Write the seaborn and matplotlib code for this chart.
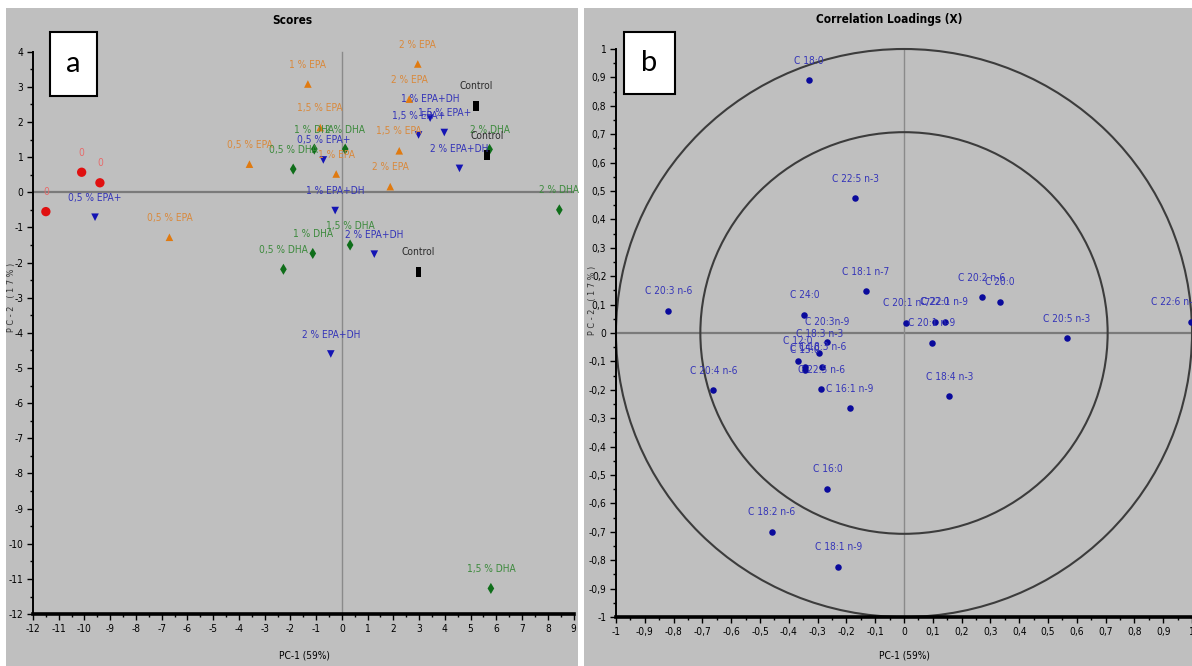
import pandas as pd
import matplotlib
matplotlib.use("Agg")
import matplotlib.pyplot as plt
import seaborn as sns
from matplotlib import font_manager
from matplotlib.patches import Rectangle, Circle
from matplotlib.ticker import MultipleLocator, FuncFormatter

# ---- scores (panel a) ----
score_labels = ["0", "0", "0",
                "0,5 % EPA", "0,5 % EPA", "1 % EPA", "1 % EPA", "1,5 % EPA", "1,5 % EPA",
                "2 % EPA", "2 % EPA", "2 % EPA",
                "0,5 % DHA", "0,5 % DHA", "1 % DHA", "1 % DHA", "1,5 % DHA", "1,5 % DHA",
                "2 % DHA", "2 % DHA", "2 % DHA",
                "0,5 % EPA+", "0,5 % EPA+", "1 % EPA+DH", "1 % EPA+DH", "1,5 % EPA+", "1,5 % EPA+",
                "2 % EPA+DH", "2 % EPA+DH", "2 % EPA+DH",
                "Control", "Control", "Control"]
score_pc1 = [-10.11, -9.40, -11.50,
             -3.59, -6.70, -1.32, -0.22, -0.84, 2.23,
             2.95, 2.62, 1.88,
             -1.89, -2.27, -1.07, -1.13, 0.32, 5.79,
             0.13, 5.74, 8.45,
             -9.59, -0.72, -0.26, 3.43, 2.98, 3.98,
             1.26, 4.57, -0.43,
             2.98, 5.21, 5.64]
score_pc2 = [0.57, 0.27, -0.55,
             0.80, -1.28, 3.08, 0.52, 1.84, 1.18,
             3.65, 2.65, 0.16,
             0.66, -2.19, 1.23, -1.74, -1.50, -11.27,
             1.23, 1.22, -0.50,
             -0.71, 0.92, -0.52, 2.11, 1.63, 1.70,
             -1.76, 0.68, -4.60,
             -2.26, 2.46, 1.06]
score_group = ["0"] * 3 + ["EPA"] * 9 + ["DHA"] * 9 + ["EPA+DHA"] * 9 + ["Control"] * 3

# ---- correlation loadings (panel b) ----
load_labels = ["C 18:0", "C 22:5 n-3", "C 18:1 n-7", "C 20:3 n-6", "C 24:0", "C 20:1 n-7",
               "C 22:0", "C 22:1 n-9", "C 20:1 n-9", "C 20:2 n-6", "C 20:0", "C 20:5 n-3",
               "C 22:6 n-3", "C 18:4 n-3", "C 20:3n-9", "C 18:3 n-3", "C 12:0", "C 14:0",
               "C 15:0", "C 18:3 n-6", "C 22:5 n-6", "C 16:1 n-9", "C 20:4 n-6", "C 16:0",
               "C 18:2 n-6", "C 18:1 n-9"]
load_pc1 = [-0.331, -0.170, -0.133, -0.818, -0.346, 0.008,
            0.108, 0.142, 0.096, 0.270, 0.333, 0.565,
            0.997, 0.157, -0.268, -0.294, -0.369, -0.344,
            -0.344, -0.284, -0.287, -0.188, -0.662, -0.266,
            -0.459, -0.228]
load_pc2 = [0.891, 0.474, 0.148, 0.079, 0.064, 0.036,
            0.040, 0.040, -0.034, 0.126, 0.110, -0.019,
            0.040, -0.222, -0.030, -0.071, -0.098, -0.121,
            -0.130, -0.119, -0.198, -0.264, -0.201, -0.549,
            -0.700, -0.823]

MARK_COLORS = {"0": "#e01010", "EPA": "#e07a10", "DHA": "#0f6e1a",
               "EPA+DHA": "#1414b4", "Control": "#000000"}
TEXT_COLORS = {"0": "#e66a6a", "EPA": "#d9893c", "DHA": "#3d8a3d",
               "EPA+DHA": "#3535b8", "Control": "#2a2a2a"}
MARKERS = {"0": "o", "EPA": "^", "DHA": "d", "EPA+DHA": "v",
           "Control": [(-0.5, -1), (0.5, -1), (0.5, 1), (-0.5, 1), (-0.5, -1)]}
SIZES = {"0": 45, "EPA": 30, "DHA": 32, "EPA+DHA": 30, "Control": 55}

GRAY = "#bfbfbf"
names = {f.name for f in font_manager.fontManager.ttflist}
if "Liberation Sans Narrow" in names:
    NARROW, STRETCH, FS = "Liberation Sans Narrow", "normal", 8
else:
    NARROW, STRETCH, FS = "DejaVu Sans", "condensed", 7.3
plt.rcParams["font.family"] = NARROW
plt.rcParams["font.stretch"] = STRETCH

W, H = 1192, 666


def rect(x0, y0, x1, y1):
    return [x0 / W, 1 - y1 / H, (x1 - x0) / W, (y1 - y0) / H]


fig = plt.figure(figsize=(W / 100, H / 100), dpi=100, facecolor="white")
for x0, x1 in [(6, 578), (584, 1192)]:
    fig.patches.append(Rectangle((x0 / W, 0), (x1 - x0) / W, (H - 8) / H,
                                 transform=fig.transFigure, facecolor=GRAY,
                                 edgecolor="none", zorder=-5))


def style_axes(ax):
    ax.set_facecolor("none")
    ax.spines[["top", "right"]].set_visible(False)
    ax.spines["left"].set_linewidth(1.4)
    ax.spines["bottom"].set_linewidth(2.6)
    ax.tick_params(which="major", direction="out", length=4, width=1, labelsize=FS, pad=3)
    ax.tick_params(which="minor", direction="out", length=2.5, width=1)
    ax.set_xlabel("")
    ax.set_ylabel("")


# ---------- panel a ----------
axa = fig.add_axes(rect(33, 46.4, 573.5, 614.1))
scores = pd.DataFrame({"pc1": score_pc1, "pc2": score_pc2, "group": score_group,
                       "label": score_labels})
axa.axhline(0, color="#7a7a7a", lw=1.6, zorder=1)
axa.axvline(0, ymin=0, ymax=16 / 16.15, color="#8a8a8a", lw=1, zorder=1)
sns.scatterplot(data=scores, x="pc1", y="pc2", hue="group", style="group", size="group",
                palette=MARK_COLORS, markers=MARKERS, sizes=SIZES, linewidth=0,
                legend=False, ax=axa, zorder=3, clip_on=False)
for _, r in scores.iterrows():
    axa.annotate(r["label"], (r["pc1"], r["pc2"]), xytext=(0, 14), textcoords="offset points",
                 ha="center", va="center", fontsize=FS, color=TEXT_COLORS[r["group"]],
                 family=NARROW, fontstretch=STRETCH, zorder=4)
axa.set_xlim(-12, 9)
axa.set_ylim(-12, 4.15)
style_axes(axa)
axa.spines["left"].set_bounds(-12, 4)
axa.xaxis.set_major_locator(MultipleLocator(1))
axa.xaxis.set_minor_locator(MultipleLocator(0.5))
axa.yaxis.set_major_locator(MultipleLocator(1))
axa.yaxis.set_minor_locator(MultipleLocator(0.5))
axa.xaxis.set_major_formatter(FuncFormatter(lambda v, p: f"{v:.0f}"))
axa.yaxis.set_major_formatter(FuncFormatter(lambda v, p: f"{v:.0f}"))

# ---------- panel b ----------
axb = fig.add_axes(rect(616, 49, 1192, 617))
loads = pd.DataFrame({"pc1": load_pc1, "pc2": load_pc2, "label": load_labels})
axb.axhline(0, color="#7a7a7a", lw=1.6, zorder=1)
axb.axvline(0, color="#8a8a8a", lw=1, zorder=1)
for rad in (1.0, 0.5 ** 0.5):
    axb.add_patch(Circle((0, 0), rad, fill=False, edgecolor="#3c3c3c", lw=1.5,
                         zorder=2, clip_on=False))
sns.scatterplot(data=loads, x="pc1", y="pc2", color="#0a0a9c", s=22, linewidth=0,
                legend=False, ax=axb, zorder=3, clip_on=False)
for _, r in loads.iterrows():
    dx = -12 if r["pc1"] > 0.95 else 0
    axb.annotate(r["label"], (r["pc1"], r["pc2"]), xytext=(dx, 14), textcoords="offset points",
                 ha="center", va="center", fontsize=FS, color="#3535b8",
                 family=NARROW, fontstretch=STRETCH, zorder=4, annotation_clip=False)
axb.set_xlim(-1, 1)
axb.set_ylim(-1, 1)
style_axes(axb)
axb.xaxis.set_major_locator(MultipleLocator(0.1))
axb.xaxis.set_minor_locator(MultipleLocator(0.05))
axb.yaxis.set_major_locator(MultipleLocator(0.1))
axb.yaxis.set_minor_locator(MultipleLocator(0.05))


def comma(v, p):
    s = f"{v:.1f}"
    if s in ("-0.0", "0.0"):
        return "0"
    if s in ("1.0", "-1.0"):
        return s[:-2]
    return s.replace(".", ",")


axb.xaxis.set_major_formatter(FuncFormatter(comma))
axb.yaxis.set_major_formatter(FuncFormatter(comma))

# ---------- titles, axis names, panel letters ----------
fig.text(292 / W, 1 - 20 / H, "Scores", ha="center", va="center", fontsize=8.5, weight="bold")
fig.text(889 / W, 1 - 20 / H, "Correlation Loadings (X)", ha="center", va="center",
         fontsize=8.5, weight="bold")
fig.text(304 / W, 1 - 655 / H, "PC-1 (59%)", ha="center", va="center", fontsize=FS)
fig.text(904 / W, 1 - 655 / H, "PC-1 (59%)", ha="center", va="center", fontsize=FS)
for xp, yp in [(12, 297), (592, 300)]:
    fig.text(xp / W, 1 - yp / H, "P C - 2   ( 1 7 % )", rotation=90, ha="center",
             va="center", fontsize=6.5, family="DejaVu Sans", color="#333333")

for (x0, y0, x1, y1), letter in [((50, 32, 97, 96), "a"), ((624, 32, 675, 94), "b")]:
    fig.patches.append(Rectangle((x0 / W, 1 - y1 / H), (x1 - x0) / W, (y1 - y0) / H,
                                 transform=fig.transFigure, facecolor="white",
                                 edgecolor="black", lw=1.5, zorder=5))
    fig.text((x0 + x1) / 2 / W, 1 - (y0 + y1) / 2 / H, letter, ha="center", va="center",
             fontsize=21, family="Lato", zorder=6)

fig.savefig("out.png", dpi=100, facecolor="white")
